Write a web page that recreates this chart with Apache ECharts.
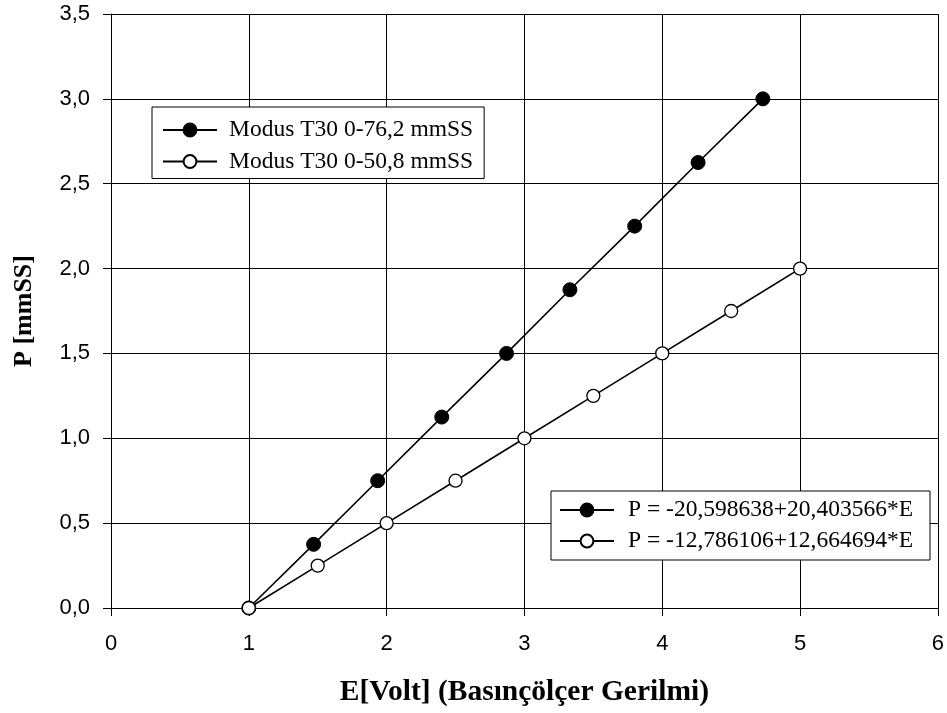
<!DOCTYPE html>
<html>
<head>
<meta charset="utf-8">
<script src="https://cdn.jsdelivr.net/npm/echarts@6/dist/echarts.min.js"></script>
<style>
html,body{margin:0;padding:0;background:#fff;}
#chart{width:947px;height:713px;}
</style>
</head>
<body>
<div id="chart"></div>
<script>
// Series names
var nameFilled = 'Modus T30 0-76,2 mmSS';
var nameOpen = 'Modus T30 0-50,8 mmSS';
var fitFilled = 'P = -20,598638+20,403566*E';
var fitOpen = 'P = -12,786106+12,664694*E';

// Filled circles (0-76,2 mmSS)
var filledE = [1.00, 1.47, 1.935, 2.40, 2.87, 3.33, 3.80, 4.26, 4.73];
var filledP = [0.000, 0.375, 0.750, 1.125, 1.500, 1.875, 2.250, 2.625, 3.000];

// Open circles (0-50,8 mmSS)
var openE = [1.00, 1.50, 2.00, 2.50, 3.00, 3.50, 4.00, 4.50, 5.00];
var openP = [0.00, 0.25, 0.50, 0.75, 1.00, 1.25, 1.50, 1.75, 2.00];

function pairs(xs, ys) { return xs.map(function (x, i) { return [x, ys[i]]; }); }

var chart = echarts.init(document.getElementById('chart'), null, {renderer: 'canvas'});

var filledStyle = {
  type: 'line', symbol: 'circle', symbolSize: 14,
  lineStyle: {color: '#000', width: 1.6},
  itemStyle: {color: '#000', borderColor: '#000', borderWidth: 1},
  emphasis: {disabled: true}, z: 3
};
var openStyle = {
  type: 'line', symbol: 'circle', symbolSize: 13,
  lineStyle: {color: '#000', width: 1.6},
  itemStyle: {color: '#fff', borderColor: '#000', borderWidth: 1.3},
  emphasis: {disabled: true}, z: 3
};

function legendText(padLeft) {
  return {fontFamily: 'Liberation Serif', fontSize: 23.5, color: '#000', lineHeight: 24, padding: [0, 0, 0, padLeft]};
}

chart.setOption({
  animation: false,
  backgroundColor: '#fff',
  grid: {left: 111, right: 9, top: 14, bottom: 105, containLabel: false},
  xAxis: {
    type: 'value', min: 0, max: 6, interval: 1,
    name: 'E[Volt] (Basınçölçer Gerilmi)',
    nameLocation: 'middle', nameGap: 69,
    nameTextStyle: {fontFamily: 'Liberation Serif', fontWeight: 'bold', fontSize: 29.5, color: '#000'},
    axisLine: {show: true, onZero: false, lineStyle: {color: '#000', width: 1}},
    axisTick: {show: true, inside: false, length: 8, lineStyle: {color: '#000', width: 1}},
    axisLabel: {fontFamily: 'Liberation Sans', fontSize: 22, color: '#000', margin: 25},
    splitLine: {show: true, lineStyle: {color: '#000', width: 1}}
  },
  yAxis: {
    type: 'value', min: 0, max: 3.5, interval: 0.5,
    name: 'P [mmSS]',
    nameLocation: 'middle', nameGap: 74,
    nameTextStyle: {fontFamily: 'Liberation Serif', fontWeight: 'bold', fontSize: 26, color: '#000'},
    axisLine: {show: true, onZero: false, lineStyle: {color: '#000', width: 1}},
    axisTick: {show: true, inside: false, length: 8, lineStyle: {color: '#000', width: 1}},
    axisLabel: {fontFamily: 'Liberation Sans', fontSize: 22, color: '#000', margin: 21,
      formatter: function (v) { return v.toFixed(1).replace('.', ','); }},
    splitLine: {show: true, lineStyle: {color: '#000', width: 1}}
  },
  legend: [
    {
      data: [nameFilled, nameOpen], orient: 'vertical',
      left: 152, top: 107,
      itemWidth: 54, itemHeight: 16, itemGap: 7.5,
      padding: [11, 11, 5, 10],
      borderColor: '#000', borderWidth: 1, backgroundColor: '#fff',
      textStyle: legendText(7), selectedMode: false
    },
    {
      data: [fitFilled, fitOpen], orient: 'vertical',
      left: 551, top: 491,
      itemWidth: 54, itemHeight: 16, itemGap: 7,
      padding: [7, 17, 7, 8],
      borderColor: '#000', borderWidth: 1, backgroundColor: '#fff',
      textStyle: legendText(9), selectedMode: false
    }
  ],
  series: [
    Object.assign({name: nameFilled, data: pairs(filledE, filledP)}, filledStyle),
    Object.assign({name: nameOpen, data: pairs(openE, openP)}, openStyle),
    Object.assign({name: fitFilled, data: []}, filledStyle),
    Object.assign({name: fitOpen, data: []}, openStyle)
  ]
});
</script>
</body>
</html>
